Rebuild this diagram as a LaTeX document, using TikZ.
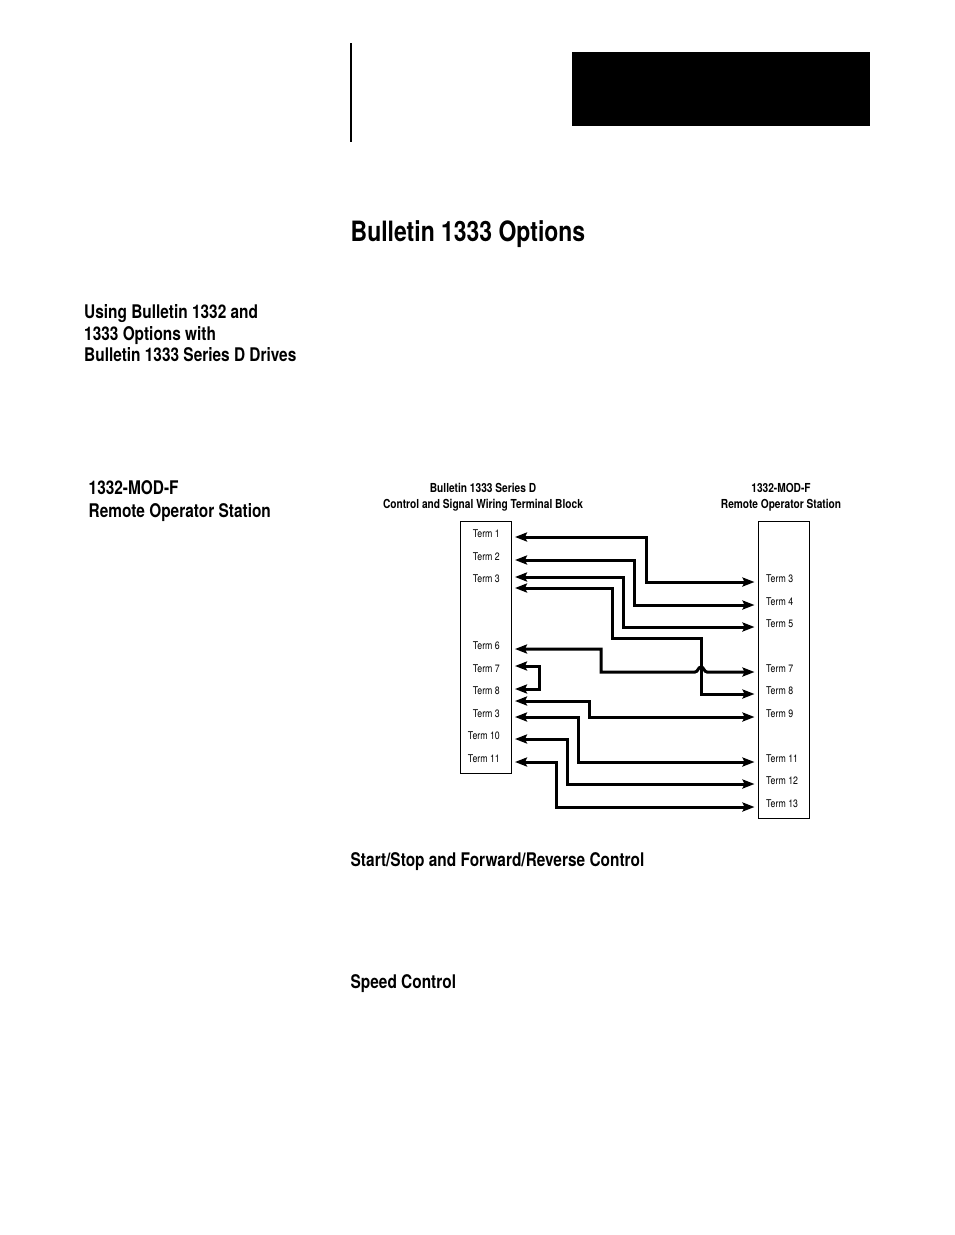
\documentclass[tikz,border=0pt]{standalone}
\usepackage{fontspec}
\setmainfont{TeX Gyre Heros}[FakeStretch=0.82]
\usetikzlibrary{arrows.meta}

\tikzset{
  term/.style={font=\fontsize{10.7}{10.7}\selectfont, inner sep=0pt},
  lterm/.style={term, anchor=east},
  rterm/.style={term, anchor=west},
  head/.style={font=\bfseries\fontsize{12.4}{12.4}\selectfont, inner sep=0pt},
  side/.style={font=\bfseries\fontsize{18.8}{18.8}\selectfont, inner sep=0pt, anchor=base west},
  wire/.style={line width=3pt, {Stealth[length=12pt,width=9pt,inset=2pt]}-{Stealth[length=12pt,width=9pt,inset=2pt]}},
  block/.style={draw, line width=1pt, inner sep=0pt, anchor=north west}
}

\begin{document}
\begin{tikzpicture}[x=1pt, y=-1pt]
    \useasboundingbox (0,0) rectangle (954,1235);

    % page furniture
    \fill [black] (572,52) rectangle (870,126);
    \draw [line width=1.5pt] (351,43) -- (351,142);
    \node [font=\bfseries\fontsize{28}{28}\selectfont, inner sep=0pt, anchor=base west] (title) at (350.5,241) {Bulletin 1333 Options};

    % side headings
    \node [side] (using1) at (84,318) {Using Bulletin 1332 and};
    \node [side] (using2) at (84,340) {1333 Options with};
    \node [side] (using3) at (84,361) {Bulletin 1333 Series D Drives};
    \node [side] (mod1) at (88.5,494) {1332-MOD-F};
    \node [side] (mod2) at (88.5,517) {Remote Operator Station};
    \node [side] (startstop) at (350.5,866) {Start/Stop and Forward/Reverse Control};
    \node [side] (speed) at (350.5,988) {Speed Control};

    % column heads
    \node [head] (lhead1) at (483,488) {Bulletin 1333 Series D};
    \node [head] (lhead2) at (483,505.5) {Control and Signal Wiring Terminal Block};
    \node [head] (rhead1) at (781,488) {1332-MOD-F};
    \node [head] (rhead2) at (781,505.5) {Remote Operator Station};

    % terminal blocks
    \node [block, minimum width=51pt, minimum height=252pt] (lblock) at (460,520.5) {};
    \node [block, minimum width=51pt, minimum height=297pt] (rblock) at (757.5,520.5) {};

    \node [lterm] (lt1) at (500,533.5) {Term 1};
    \node [lterm] (lt2) at (500,556.5) {Term 2};
    \node [lterm] (lt3) at (500,578.5) {Term 3};
    \node [lterm] (lt6) at (500,645.5) {Term 6};
    \node [lterm] (lt7) at (500,668.5) {Term 7};
    \node [lterm] (lt8) at (500,690.5) {Term 8};
    \node [lterm] (lt3b) at (500,713.5) {Term 3};
    \node [lterm] (lt10) at (500,735.5) {Term 10};
    \node [lterm] (lt11) at (500,758.5) {Term 11};

    \node [rterm] (rt3) at (766,578.5) {Term 3};
    \node [rterm] (rt4) at (766,601.5) {Term 4};
    \node [rterm] (rt5) at (766,623.5) {Term 5};
    \node [rterm] (rt7) at (766,668.5) {Term 7};
    \node [rterm] (rt8) at (766,690.5) {Term 8};
    \node [rterm] (rt9) at (766,713.5) {Term 9};
    \node [rterm] (rt11) at (766,758.5) {Term 11};
    \node [rterm] (rt12) at (766,780.5) {Term 12};
    \node [rterm] (rt13) at (766,803.5) {Term 13};

    % wire ends
    \coordinate (la) at (515,537);
    \coordinate (lb) at (515,560);
    \coordinate (lc) at (515,577);
    \coordinate (ld) at (515,588);
    \coordinate (le) at (515,649);
    \coordinate (lf) at (515,666);
    \coordinate (lg) at (515,689);
    \coordinate (lh) at (515,701);
    \coordinate (li) at (515,717);
    \coordinate (lj) at (515,739);
    \coordinate (lk) at (515,762);

    \coordinate (ra) at (754.5,582);
    \coordinate (rb) at (754.5,605);
    \coordinate (rc) at (754.5,627);
    \coordinate (rd) at (754.5,672);
    \coordinate (re) at (754.5,694);
    \coordinate (rf) at (754.5,717);
    \coordinate (rg) at (754.5,762);
    \coordinate (rh) at (754.5,784);
    \coordinate (ri) at (754.5,807);

    % wires
    \draw [wire] (la) -| (646,582) -- (ra);
    \draw [wire] (lb) -| (634,605) -- (rb);
    \draw [wire] (lc) -| (623,627) -- (rc);
    \draw [wire] (ld) -| (612,638) -| (701,694) -- (re);
    \draw [wire] (le) -| (601,672) -- (695,672)
        .. controls (698,672) and (698,667) .. (701,667)
        .. controls (704,667) and (704,672) .. (707,672) -- (rd);
    \draw [wire] (lf) -| (539,689) -- (lg);
    \draw [wire] (lh) -| (589,717) -- (rf);
    \draw [wire] (li) -| (578,762) -- (rg);
    \draw [wire] (lj) -| (567,784) -- (rh);
    \draw [wire] (lk) -| (556,807) -- (ri);
  \end{tikzpicture}
\end{document}
